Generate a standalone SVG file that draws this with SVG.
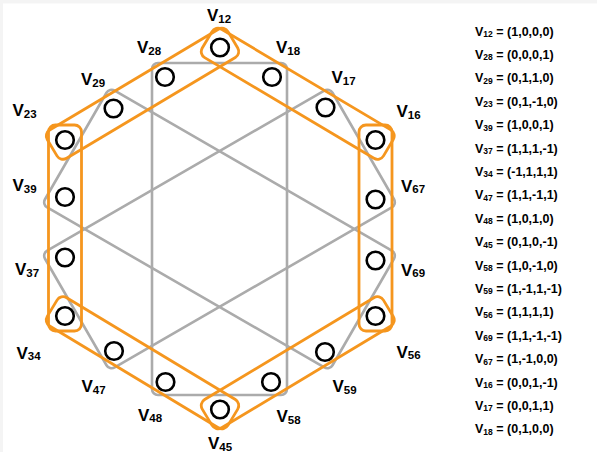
<svg xmlns="http://www.w3.org/2000/svg" width="597" height="452" viewBox="0 0 597 452">
<style>
.band{fill:none;stroke:#F5961E;stroke-width:2.8}
.grey{fill:none;stroke:#ABABAB;stroke-width:2.6}
.nd{fill:#fff;stroke:#000;stroke-width:2.6}
.lb{font-family:"Liberation Sans",Arial,sans-serif;font-weight:bold;font-size:17px;fill:#000}
.lb .s{font-size:11.5px}
.lg{font-family:"Liberation Sans",Arial,sans-serif;font-weight:bold;font-size:12.5px;fill:#000}
.lg .s{font-size:8.5px}
</style>
<rect width="597" height="452" fill="#f4f4f4"/>
<rect x="3" y="3.5" width="594" height="448.5" fill="#fff"/>
<g id="connectors">
<g id="grey-edges">
<rect class="grey" x="152" y="63" width="135" height="332" rx="6"/>
<rect class="grey" x="152" y="63" width="135" height="332" rx="6" transform="rotate(60 219.5 229)"/>
<rect class="grey" x="152" y="63" width="135" height="332" rx="6" transform="rotate(-60 219.5 229)"/>
</g>
<g id="orange-edges">
<rect class="band" x="-15" y="-16.5" width="210.93" height="33" rx="7" transform="translate(220 47.5) rotate(30.75)"/>
<rect class="band" x="-15" y="-16.5" width="206" height="33" rx="7" transform="translate(375.5 140) rotate(90)"/>
<rect class="band" x="-15" y="-16.5" width="211.45" height="33" rx="7" transform="translate(375.5 316) rotate(148.98)"/>
<rect class="band" x="-15" y="-16.5" width="211.02" height="33" rx="7" transform="translate(220 409.5) rotate(211.1)"/>
<rect class="band" x="-15" y="-16.5" width="206" height="33" rx="7" transform="translate(65 316) rotate(-90)"/>
<rect class="band" x="-15" y="-16.5" width="210.5" height="33" rx="7" transform="translate(65 140) rotate(-30.83)"/>
</g>
</g>
<g id="V12"><circle class="nd" cx="220" cy="47.5" r="8.8"/><text class="lb" x="207" y="21">V<tspan class="s" dy="1.8">12</tspan></text></g>
<g id="V28"><circle class="nd" cx="165" cy="77" r="8.8"/><text class="lb" x="137" y="53">V<tspan class="s" dy="1.8">28</tspan></text></g>
<g id="V18"><circle class="nd" cx="272" cy="77" r="8.8"/><text class="lb" x="276" y="53">V<tspan class="s" dy="1.8">18</tspan></text></g>
<g id="V29"><circle class="nd" cx="113.5" cy="108.5" r="8.8"/><text class="lb" x="81" y="85">V<tspan class="s" dy="1.8">29</tspan></text></g>
<g id="V17"><circle class="nd" cx="325.5" cy="107.5" r="8.8"/><text class="lb" x="331.5" y="83">V<tspan class="s" dy="1.8">17</tspan></text></g>
<g id="V23"><circle class="nd" cx="65" cy="140" r="8.8"/><text class="lb" x="12.5" y="116">V<tspan class="s" dy="1.8">23</tspan></text></g>
<g id="V16"><circle class="nd" cx="375.5" cy="140" r="8.8"/><text class="lb" x="396.5" y="117">V<tspan class="s" dy="1.8">16</tspan></text></g>
<g id="V39"><circle class="nd" cx="65" cy="197" r="8.8"/><text class="lb" x="12.5" y="191">V<tspan class="s" dy="1.8">39</tspan></text></g>
<g id="V67"><circle class="nd" cx="375.5" cy="199.5" r="8.8"/><text class="lb" x="401" y="191.5">V<tspan class="s" dy="1.8">67</tspan></text></g>
<g id="V37"><circle class="nd" cx="65" cy="257.5" r="8.8"/><text class="lb" x="15" y="275">V<tspan class="s" dy="1.8">37</tspan></text></g>
<g id="V69"><circle class="nd" cx="375.5" cy="260.5" r="8.8"/><text class="lb" x="401" y="275.5">V<tspan class="s" dy="1.8">69</tspan></text></g>
<g id="V34"><circle class="nd" cx="65" cy="316" r="8.8"/><text class="lb" x="16.5" y="358.5">V<tspan class="s" dy="1.8">34</tspan></text></g>
<g id="V56"><circle class="nd" cx="375.5" cy="316" r="8.8"/><text class="lb" x="396.5" y="357.5">V<tspan class="s" dy="1.8">56</tspan></text></g>
<g id="V47"><circle class="nd" cx="114" cy="351" r="8.8"/><text class="lb" x="81.5" y="392">V<tspan class="s" dy="1.8">47</tspan></text></g>
<g id="V59"><circle class="nd" cx="325" cy="352" r="8.8"/><text class="lb" x="332.5" y="392">V<tspan class="s" dy="1.8">59</tspan></text></g>
<g id="V48"><circle class="nd" cx="165.5" cy="382" r="8.8"/><text class="lb" x="138" y="420.5">V<tspan class="s" dy="1.8">48</tspan></text></g>
<g id="V58"><circle class="nd" cx="271" cy="382" r="8.8"/><text class="lb" x="276.5" y="422">V<tspan class="s" dy="1.8">58</tspan></text></g>
<g id="V45"><circle class="nd" cx="220" cy="409.5" r="8.8"/><text class="lb" x="208" y="449">V<tspan class="s" dy="1.8">45</tspan></text></g>
<g id="legend" class="lg">
<text x="475" y="35.5">V<tspan class="s" dy="1.5">12</tspan><tspan dy="-1.5"> = (1,0,0,0)</tspan></text>
<text x="475" y="58.9">V<tspan class="s" dy="1.5">28</tspan><tspan dy="-1.5"> = (0,0,0,1)</tspan></text>
<text x="475" y="82.3">V<tspan class="s" dy="1.5">29</tspan><tspan dy="-1.5"> = (0,1,1,0)</tspan></text>
<text x="475" y="105.7">V<tspan class="s" dy="1.5">23</tspan><tspan dy="-1.5"> = (0,1,-1,0)</tspan></text>
<text x="475" y="129.1">V<tspan class="s" dy="1.5">39</tspan><tspan dy="-1.5"> = (1,0,0,1)</tspan></text>
<text x="475" y="152.5">V<tspan class="s" dy="1.5">37</tspan><tspan dy="-1.5"> = (1,1,1,-1)</tspan></text>
<text x="475" y="175.9">V<tspan class="s" dy="1.5">34</tspan><tspan dy="-1.5"> = (-1,1,1,1)</tspan></text>
<text x="475" y="199.3">V<tspan class="s" dy="1.5">47</tspan><tspan dy="-1.5"> = (1,1,-1,1)</tspan></text>
<text x="475" y="222.7">V<tspan class="s" dy="1.5">48</tspan><tspan dy="-1.5"> = (1,0,1,0)</tspan></text>
<text x="475" y="246.1">V<tspan class="s" dy="1.5">45</tspan><tspan dy="-1.5"> = (0,1,0,-1)</tspan></text>
<text x="475" y="269.5">V<tspan class="s" dy="1.5">58</tspan><tspan dy="-1.5"> = (1,0,-1,0)</tspan></text>
<text x="475" y="292.9">V<tspan class="s" dy="1.5">59</tspan><tspan dy="-1.5"> = (1,-1,1,-1)</tspan></text>
<text x="475" y="316.3">V<tspan class="s" dy="1.5">56</tspan><tspan dy="-1.5"> = (1,1,1,1)</tspan></text>
<text x="475" y="339.7">V<tspan class="s" dy="1.5">69</tspan><tspan dy="-1.5"> = (1,1,-1,-1)</tspan></text>
<text x="475" y="363.1">V<tspan class="s" dy="1.5">67</tspan><tspan dy="-1.5"> = (1,-1,0,0)</tspan></text>
<text x="475" y="386.5">V<tspan class="s" dy="1.5">16</tspan><tspan dy="-1.5"> = (0,0,1,-1)</tspan></text>
<text x="475" y="409.9">V<tspan class="s" dy="1.5">17</tspan><tspan dy="-1.5"> = (0,0,1,1)</tspan></text>
<text x="475" y="433.3">V<tspan class="s" dy="1.5">18</tspan><tspan dy="-1.5"> = (0,1,0,0)</tspan></text>
</g>
</svg>
